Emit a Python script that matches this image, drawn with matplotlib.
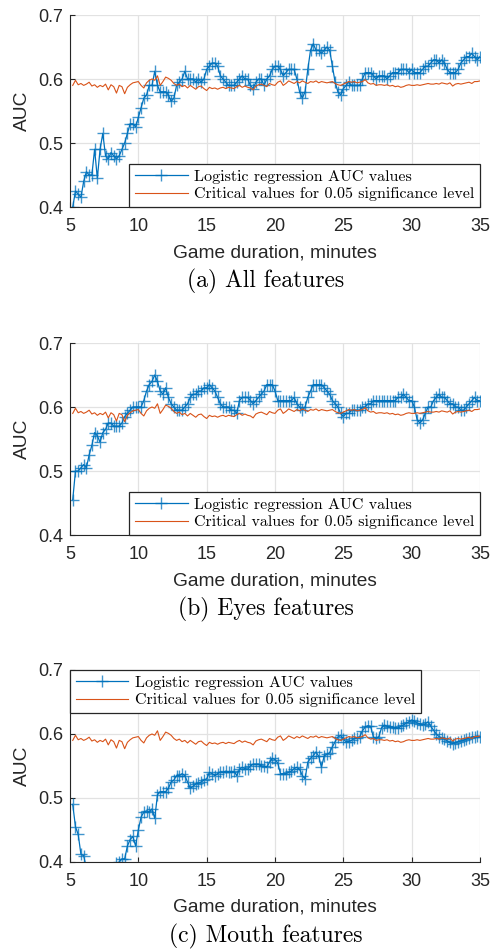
import numpy as np
import matplotlib
matplotlib.use('Agg')
import matplotlib.pyplot as plt

# time axis, one sample every 0.2 min
minutes = np.round(np.arange(5.2, 35.01, 0.2), 1)

# critical values for 0.05 significance level (same curve in all panels)
crit = [
    0.590, 0.598, 0.591, 0.593, 0.590,
    0.592, 0.595, 0.589, 0.591, 0.587,
    0.590, 0.588, 0.592, 0.583, 0.591,
    0.588, 0.578, 0.590, 0.588, 0.577,
    0.587, 0.591, 0.594, 0.595, 0.596,
    0.590, 0.586, 0.594, 0.598, 0.600,
    0.598, 0.605, 0.590, 0.596, 0.603,
    0.601, 0.598, 0.593, 0.590, 0.592,
    0.588, 0.590, 0.586, 0.590, 0.587,
    0.584, 0.588, 0.589, 0.585, 0.582,
    0.587, 0.585, 0.586, 0.584, 0.586,
    0.587, 0.585, 0.587, 0.586, 0.585,
    0.588, 0.590, 0.587, 0.589, 0.587,
    0.586, 0.583, 0.589, 0.591, 0.592,
    0.590, 0.588, 0.593, 0.591, 0.590,
    0.595, 0.597, 0.590, 0.593, 0.597,
    0.595, 0.593, 0.596, 0.594, 0.597,
    0.595, 0.593, 0.596, 0.595, 0.597,
    0.594, 0.596, 0.595, 0.594, 0.595,
    0.596, 0.593, 0.591, 0.590, 0.592,
    0.594, 0.596, 0.595, 0.596, 0.594,
    0.595, 0.596, 0.599, 0.594, 0.592,
    0.593, 0.590, 0.591, 0.591, 0.590,
    0.591, 0.589, 0.590, 0.588, 0.589,
    0.587, 0.588, 0.590, 0.591, 0.590,
    0.590, 0.591, 0.590, 0.591, 0.592,
    0.593, 0.592, 0.592, 0.593, 0.592,
    0.594, 0.593, 0.592, 0.594, 0.589,
    0.592, 0.593, 0.592, 0.593, 0.594,
    0.595, 0.593, 0.596, 0.596, 0.597,
]

auc_all = [
    0.400, 0.425, 0.420, 0.415, 0.440,
    0.455, 0.450, 0.450, 0.490, 0.445,
    0.490, 0.515, 0.480, 0.475, 0.485,
    0.480, 0.475, 0.480, 0.490, 0.500,
    0.515, 0.530, 0.530, 0.525, 0.540,
    0.555, 0.570, 0.575, 0.590, 0.590,
    0.612, 0.590, 0.580, 0.580, 0.580,
    0.575, 0.565, 0.570, 0.590, 0.595,
    0.600, 0.612, 0.600, 0.600, 0.600,
    0.595, 0.600, 0.595, 0.600, 0.615,
    0.620, 0.625, 0.625, 0.620, 0.605,
    0.600, 0.595, 0.590, 0.590, 0.590,
    0.595, 0.600, 0.605, 0.600, 0.600,
    0.590, 0.585, 0.595, 0.600, 0.600,
    0.590, 0.600, 0.605, 0.615, 0.620,
    0.620, 0.615, 0.605, 0.610, 0.615,
    0.615, 0.615, 0.600, 0.580, 0.570,
    0.580, 0.615, 0.645, 0.655, 0.645,
    0.645, 0.640, 0.645, 0.650, 0.645,
    0.620, 0.595, 0.580, 0.575, 0.585,
    0.590, 0.595, 0.590, 0.590, 0.590,
    0.590, 0.600, 0.610, 0.610, 0.610,
    0.605, 0.600, 0.605, 0.605, 0.605,
    0.600, 0.605, 0.610, 0.610, 0.610,
    0.615, 0.615, 0.615, 0.610, 0.615,
    0.610, 0.610, 0.610, 0.615, 0.620,
    0.620, 0.625, 0.630, 0.630, 0.625,
    0.630, 0.625, 0.615, 0.610, 0.610,
    0.610, 0.615, 0.625, 0.630, 0.635,
    0.635, 0.640, 0.635, 0.630, 0.635,
]

auc_eyes = [
    0.455, 0.500, 0.500, 0.505, 0.510,
    0.505, 0.525, 0.540, 0.560, 0.555,
    0.545, 0.560, 0.565, 0.575, 0.575,
    0.570, 0.570, 0.570, 0.575, 0.585,
    0.590, 0.595, 0.600, 0.600, 0.600,
    0.600, 0.610, 0.625, 0.635, 0.640,
    0.650, 0.640, 0.625, 0.620, 0.630,
    0.615, 0.605, 0.600, 0.595, 0.595,
    0.595, 0.600, 0.605, 0.615, 0.620,
    0.620, 0.625, 0.625, 0.630, 0.630,
    0.635, 0.630, 0.625, 0.615, 0.605,
    0.600, 0.600, 0.600, 0.595, 0.595,
    0.590, 0.610, 0.615, 0.615, 0.615,
    0.610, 0.605, 0.610, 0.615, 0.620,
    0.625, 0.635, 0.635, 0.635, 0.625,
    0.610, 0.610, 0.610, 0.610, 0.610,
    0.610, 0.615, 0.605, 0.600, 0.595,
    0.600, 0.615, 0.625, 0.635, 0.635,
    0.635, 0.635, 0.630, 0.625, 0.620,
    0.610, 0.605, 0.600, 0.590, 0.585,
    0.590, 0.590, 0.595, 0.595, 0.595,
    0.595, 0.600, 0.600, 0.605, 0.605,
    0.610, 0.610, 0.610, 0.610, 0.610,
    0.610, 0.610, 0.610, 0.610, 0.615,
    0.615, 0.620, 0.615, 0.610, 0.610,
    0.600, 0.580, 0.575, 0.580, 0.590,
    0.600, 0.600, 0.610, 0.615, 0.620,
    0.615, 0.615, 0.610, 0.605, 0.605,
    0.600, 0.600, 0.595, 0.595, 0.600,
    0.605, 0.610, 0.615, 0.610, 0.610,
]

auc_mouth = [
    0.490, 0.455, 0.443, 0.412, 0.410,
    0.390, 0.375, 0.365, 0.360, 0.355,
    0.355, 0.360, 0.365, 0.370, 0.380,
    0.390, 0.398, 0.400, 0.405, 0.405,
    0.425, 0.435, 0.440, 0.425, 0.450,
    0.470, 0.478, 0.480, 0.478, 0.483,
    0.468, 0.505, 0.510, 0.510, 0.510,
    0.515, 0.525, 0.528, 0.535, 0.535,
    0.538, 0.535, 0.525, 0.515, 0.518,
    0.522, 0.523, 0.525, 0.528, 0.530,
    0.540, 0.538, 0.535, 0.538, 0.541,
    0.540, 0.542, 0.541, 0.540, 0.542,
    0.535, 0.545, 0.548, 0.546, 0.545,
    0.550, 0.553, 0.553, 0.553, 0.550,
    0.550, 0.548, 0.556, 0.562, 0.560,
    0.555, 0.538, 0.538, 0.538, 0.540,
    0.542, 0.546, 0.548, 0.545, 0.535,
    0.530, 0.556, 0.562, 0.566, 0.572,
    0.565, 0.548, 0.566, 0.568, 0.571,
    0.580, 0.588, 0.595, 0.598, 0.592,
    0.588, 0.588, 0.590, 0.593, 0.594,
    0.596, 0.605, 0.611, 0.613, 0.612,
    0.595, 0.593, 0.596, 0.610, 0.614,
    0.612, 0.611, 0.611, 0.610, 0.609,
    0.612, 0.614, 0.617, 0.619, 0.622,
    0.620, 0.617, 0.616, 0.614, 0.616,
    0.619, 0.612, 0.606, 0.600, 0.596,
    0.594, 0.592, 0.589, 0.587, 0.585,
    0.586, 0.588, 0.589, 0.590, 0.592,
    0.594, 0.595, 0.596, 0.597, 0.596,
]

captions = ['(a) All features', '(b) Eyes features', '(c) Mouth features']
legend_locs = ['lower right', 'lower right', 'upper left']
series = [auc_all, auc_eyes, auc_mouth]

blue = '#0072BD'
blue_mk = (0.0, 0.447, 0.741, 0.75)
orange = '#D95319'
dark = '#262626'
W, H = 494, 950

fig = plt.figure(figsize=(W / 100, H / 100), dpi=100)
tops = [15, 343, 670]

for auc, cap, loc, top in zip(series, captions, legend_locs, tops):
    ax = fig.add_axes([70 / W, 1 - (top + 192) / H, 410 / W, 192 / H])
    ax.plot(minutes, auc, color=blue, lw=0.9, marker='+', ms=8.5, mew=1.0,
            mec=blue_mk, label='Logistic regression AUC values')
    ax.plot(minutes, crit, color=orange, lw=0.8,
            label='Critical values for 0.05 significance level')
    ax.set_xlim(5, 35)
    ax.set_ylim(0.4, 0.7)
    ax.set_xticks(range(5, 36, 5))
    ax.set_yticks([0.4, 0.5, 0.6, 0.7])
    ax.grid(True, color='#e2e2e2', lw=0.9)
    ax.set_axisbelow(True)
    ax.spines['top'].set_visible(False)
    ax.spines['right'].set_visible(False)
    for s in ['left', 'bottom']:
        ax.spines[s].set_color(dark)
        ax.spines[s].set_linewidth(0.8)
    ax.tick_params(direction='in', length=3.5, width=0.8, color=dark,
                   labelcolor=dark, labelsize=13, pad=5)
    ax.tick_params(axis='x', pad=8)
    for lab in ax.get_xticklabels() + ax.get_yticklabels():
        lab.set_family('Liberation Sans')
    ax.set_xlabel('Game duration, minutes', fontsize=13.8, family='Liberation Sans',
                  color=dark, va='baseline')
    ax.xaxis.set_label_coords(0.5, -50 / 192)
    ax.set_ylabel('AUC', fontsize=13.8, family='Liberation Sans', color=dark,
                  va='center')
    ax.yaxis.set_label_coords(-48 / 410, 0.5)
    anchor = (1.0, 0.0) if loc == 'lower right' else (0.0, 1.0)
    leg = ax.legend(loc=loc, bbox_to_anchor=anchor, borderaxespad=0,
                    prop={'family': 'cmr10', 'size': 11.5},
                    fancybox=False, framealpha=1, edgecolor=dark,
                    handlelength=3.3, handletextpad=0.4, borderpad=0.35,
                    labelspacing=0.2)
    leg.get_frame().set_linewidth(0.9)
    fig.text(266 / W, 1 - (top + 272) / H, cap, family='cmr10', size=17,
             ha='center', va='baseline', color='black')

fig.savefig('out.png', dpi=100)
